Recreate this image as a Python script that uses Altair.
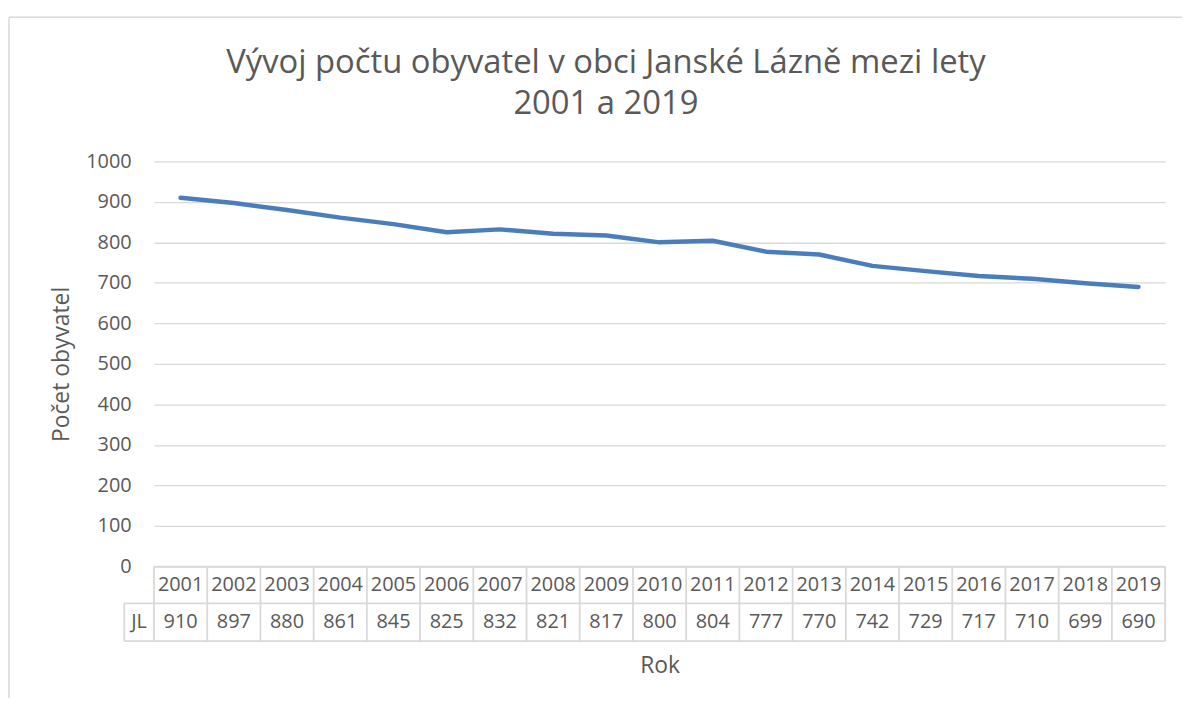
import altair as alt
import pandas as pd

years = ["2001", "2002", "2003", "2004", "2005", "2006", "2007", "2008", "2009", "2010",
         "2011", "2012", "2013", "2014", "2015", "2016", "2017", "2018", "2019"]
population = [910, 897, 880, 861, 845, 825, 832, 821, 817, 800,
              804, 777, 770, 742, 729, 717, 710, 699, 690]
y_ticks = [0, 100, 200, 300, 400, 500, 600, 700, 800, 900, 1000]
series_name = "JL"
title_lines = ["Vývoj počtu obyvatel v obci Janské Lázně mezi lety", "2001 a 2019"]

df = pd.DataFrame({"year": years, "value": population})

FONT = "Open Sans"
TXT = "#595959"
GRID = "#d9d9d9"
W, H = 1018, 408
ROW1, ROW2 = 445, 483
JLX = -30
FS = 20

xscale = alt.Scale(type="band", domain=years, paddingInner=0, paddingOuter=0)

base = alt.Chart(df)

line = base.mark_line(color="#4a7ebb", strokeWidth=4.5, strokeCap="round", strokeJoin="round").encode(
    x=alt.X("year:N", scale=xscale, bandPosition=0.5,
            axis=alt.Axis(labels=False, ticks=False, domain=False, grid=False, title="Rok",
                          titleFont=FONT, titleFontSize=23, titleFontWeight="normal",
                          titleColor=TXT, titlePadding=89)),
    y=alt.Y("value:Q", scale=alt.Scale(domain=[0, 1000], nice=False),
            axis=alt.Axis(values=y_ticks, format="d", title="Počet obyvatel", labelFont=FONT,
                          labelFontSize=FS, labelColor=TXT, labelPadding=23, ticks=False,
                          domain=False, gridColor=GRID, gridWidth=1.3, titleFont=FONT,
                          titleFontSize=23, titleFontWeight="normal", titleColor=TXT,
                          titlePadding=12)),
)

year_text = base.mark_text(font=FONT, fontSize=FS, color=TXT, baseline="middle").encode(
    x=alt.X("year:N", scale=xscale, bandPosition=0.5),
    y=alt.value((H + ROW1) / 2),
    text="year:N",
)
value_text = base.mark_text(font=FONT, fontSize=FS, color=TXT, baseline="middle").encode(
    x=alt.X("year:N", scale=xscale, bandPosition=0.5),
    y=alt.value((ROW1 + ROW2) / 2),
    text="value:Q",
)
jl_text = alt.Chart(pd.DataFrame({"t": [series_name]})).mark_text(
    font=FONT, fontSize=FS, color=TXT, baseline="middle").encode(
    x=alt.value(JLX / 2), y=alt.value((ROW1 + ROW2) / 2), text="t:N")

vborders = base.mark_rule(color=GRID, strokeWidth=1.8).encode(
    x=alt.X("year:N", scale=xscale, bandPosition=0),
    y=alt.value(H), y2=alt.value(ROW2),
)
right_border = alt.Chart(pd.DataFrame({"a": [0]})).mark_rule(color=GRID, strokeWidth=1.8).encode(
    x=alt.value(W), y=alt.value(H), y2=alt.value(ROW2))
jl_border = alt.Chart(pd.DataFrame({"a": [0]})).mark_rule(color=GRID, strokeWidth=1.8).encode(
    x=alt.value(JLX), y=alt.value(ROW1), y2=alt.value(ROW2))
h_top = alt.Chart(pd.DataFrame({"a": [0]})).mark_rule(color=GRID, strokeWidth=1.8).encode(
    x=alt.value(0), x2=alt.value(W), y=alt.value(H))
h_mid = alt.Chart(pd.DataFrame({"a": [0]})).mark_rule(color=GRID, strokeWidth=1.8).encode(
    x=alt.value(JLX), x2=alt.value(W), y=alt.value(ROW1))
h_bot = alt.Chart(pd.DataFrame({"a": [0]})).mark_rule(color=GRID, strokeWidth=1.8).encode(
    x=alt.value(JLX), x2=alt.value(W), y=alt.value(ROW2))

frame_top = alt.Chart(pd.DataFrame({"a": [0]})).mark_rule(color=GRID, strokeWidth=1.5).encode(
    x=alt.value(-146), x2=alt.value(1040), y=alt.value(-145))
frame_left = alt.Chart(pd.DataFrame({"a": [0]})).mark_rule(color=GRID, strokeWidth=1.5).encode(
    x=alt.value(-146), y=alt.value(-145), y2=alt.value(560))

chart = alt.layer(
    frame_top, frame_left, vborders, right_border, jl_border, h_top, h_mid, h_bot,
    year_text, value_text, jl_text, line,
).properties(
    width=W, height=H,
    autosize=alt.AutoSizeParams(type="none"),
    padding={"left": 147, "top": 152, "right": 17, "bottom": 130},
    title=alt.TitleParams(text=title_lines, font=FONT, fontSize=33, fontWeight="normal",
                          color=TXT, anchor="middle", dx=-54, offset=-131,
                          baseline="alphabetic", lineHeight=41),
).configure_view(stroke=None)

chart.save("out.html", embed_options={"renderer": "svg", "actions": False})
